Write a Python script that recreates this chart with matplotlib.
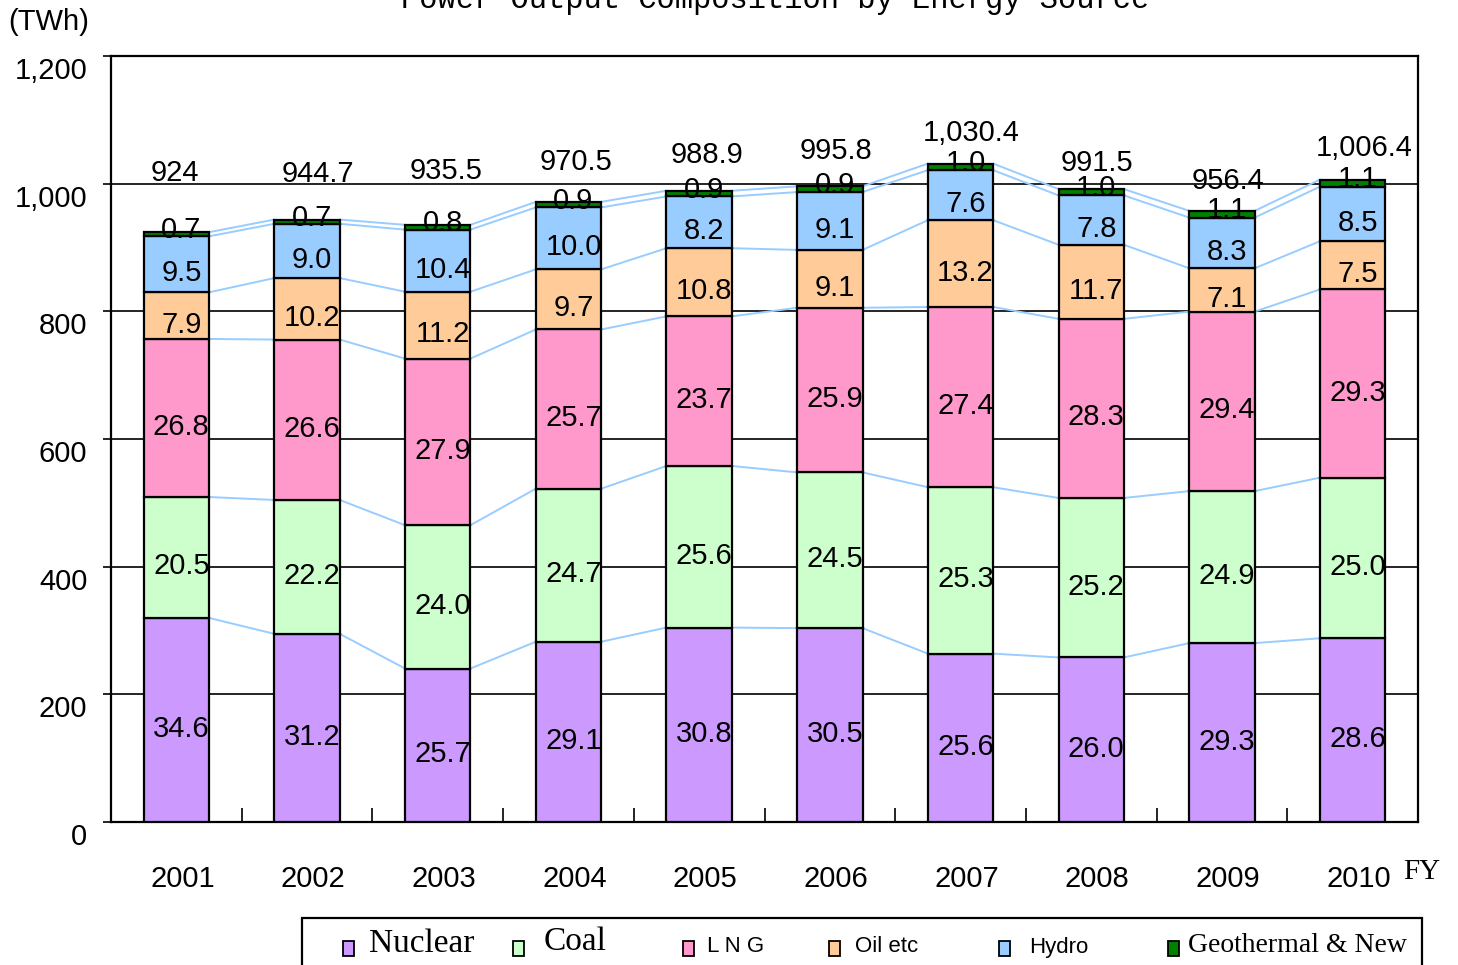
import matplotlib
matplotlib.use("Agg")
import matplotlib.pyplot as plt
from matplotlib.patches import Rectangle
from matplotlib.transforms import ScaledTranslation
import numpy as np

years = ["2001", "2002", "2003", "2004", "2005", "2006", "2007", "2008", "2009", "2010"]
totals = [924, 944.7, 935.5, 970.5, 988.9, 995.8, 1030.4, 991.5, 956.4, 1006.4]
total_labels = ["924", "944.7", "935.5", "970.5", "988.9", "995.8", "1,030.4", "991.5", "956.4", "1,006.4"]
sources = ["Nuclear", "Coal", "LNG", "Oil etc", "Hydro", "Geothermal & New"]
nuclear = [34.6, 31.2, 25.7, 29.1, 30.8, 30.5, 25.6, 26.0, 29.3, 28.6]
coal = [20.5, 22.2, 24.0, 24.7, 25.6, 24.5, 25.3, 25.2, 24.9, 25.0]
lng = [26.8, 26.6, 27.9, 25.7, 23.7, 25.9, 27.4, 28.3, 29.4, 29.3]
oil = [7.9, 10.2, 11.2, 9.7, 10.8, 9.1, 13.2, 11.7, 7.1, 7.5]
hydro = [9.5, 9.0, 10.4, 10.0, 8.2, 9.1, 7.6, 7.8, 8.3, 8.5]
geo = [0.7, 0.7, 0.8, 0.9, 0.9, 0.9, 1.0, 1.0, 1.1, 1.1]
yticks = [0, 200, 400, 600, 800, 1000, 1200]
ytick_labels = ["0", "200", "400", "600", "800", "1,000", "1,200"]

colors = ["#CC99FF", "#CCFFCC", "#FF99CC", "#FFCC99", "#99CCFF", "#008000"]
# per-bar offsets (px) of the total label relative to the bar top centre
total_dy_px = [59, 46, 54, 40, 36, 35, 31, 26, 30, 32]
total_dx_px = [-1, 11, 8, 8, 8, 6, 11, 6, 6, 12]

SANS = ["Liberation Sans", "DejaVu Sans"]
SERIF = ["Liberation Serif", "DejaVu Serif"]
FS = 21

W, H = 1458, 965
fig = plt.figure(figsize=(W / 100, H / 100), dpi=100)
ax = fig.add_axes([111 / W, 1 - 822 / H, 1307 / W, 766 / H])

x = np.arange(len(years))
width = 0.5
series = [nuclear, coal, lng, oil, hydro, geo]
tot = np.array(totals)
bottom = np.zeros(len(years))
tops = []
mids = []
for vals, col in zip(series, colors):
    h = tot * np.array(vals) / 100.0
    ax.bar(x, h, width, bottom=bottom, color=col, edgecolor="black", linewidth=1.6, zorder=3)
    mids.append(bottom + h / 2)
    bottom = bottom + h
    tops.append(bottom.copy())

# connector lines
for lev in tops:
    for i in range(len(years) - 1):
        ax.plot([x[i] + width / 2, x[i + 1] - width / 2], [lev[i], lev[i + 1]],
                color="#99CCFF", lw=1.4, zorder=2)

# segment labels
px = fig.dpi_scale_trans
for k, (vals, mid) in enumerate(zip(series, mids)):
    dy = -9 if k < 5 else 4
    for i in range(len(years)):
        t = ax.transData + ScaledTranslation(5 / 100, dy / 100, px)
        ax.text(x[i], mid[i], f"{vals[i]:.1f}", transform=t, ha="center", va="center",
                fontsize=FS, family=SANS, zorder=5)

# totals
for i in range(len(years)):
    t = ax.transData + ScaledTranslation(total_dx_px[i] / 100, total_dy_px[i] / 100, px)
    ax.text(x[i], tops[-1][i], total_labels[i], transform=t, ha="center", va="center",
            fontsize=FS, family=SANS, zorder=5)

ax.set_xlim(-0.5, len(years) - 0.5)
ax.set_ylim(0, 1200)
ax.set_yticks(yticks)
ax.set_yticklabels(ytick_labels, family=SANS, fontsize=FS)
for y in yticks[1:-1]:
    ax.axhline(y, color="black", lw=1.2, zorder=1)
ax.tick_params(axis="y", direction="out", length=6, width=1.2, pad=11)
for lab in ax.get_yticklabels():
    lab.set_transform(lab.get_transform() + ScaledTranslation(0, -12 / 100, px))

ax.set_xticks(x)
ax.set_xticklabels(years, family=SANS, fontsize=FS)
ax.tick_params(axis="x", which="major", length=0, pad=31)
for lab in ax.get_xticklabels():
    lab.set_transform(lab.get_transform() + ScaledTranslation(6 / 100, 0, px))
ax.set_xticks(x[:-1] + 0.5, minor=True)
ax.tick_params(axis="x", which="minor", direction="in", length=10, width=1.2)

for s in ax.spines.values():
    s.set_linewidth(1.6)
    s.set_color("black")

# title (cut off at top)
fig.text(775 / W, 1 - 8 / H, "Power Output Composition by Energy Source",
         family=["Liberation Mono", "DejaVu Sans Mono"], fontsize=22,
         ha="center", va="baseline")
fig.text(8 / W, 1 - 22 / H, "(TWh)", family=SANS, fontsize=21, ha="left", va="center")
fig.text(1403 / W, 1 - 872 / H, "FY", family=SERIF, fontsize=21, ha="left", va="center")

# legend box
fig.patches.append(Rectangle((302 / W, -0.05), (1422 - 302) / W, 0.05 + (965 - 918) / H,
                             transform=fig.transFigure, facecolor="white",
                             edgecolor="black", lw=1.6))
leg_x = [343, 513, 683, 829, 999, 1168]
leg_txt_x = [369, 544, 707, 855, 1029, 1188]
leg_txt_y = [944, 942, 947, 947, 947, 946]
leg_fams = [SERIF, SERIF, SANS, SANS, SANS, SERIF]
leg_sizes = [24, 24, 16, 16, 16, 20]
leg_labels = ["Nuclear", "Coal", "L N G", "Oil etc", "Hydro", "Geothermal & New"]
for lx, tx, ty, fam, fs, lab, col in zip(leg_x, leg_txt_x, leg_txt_y, leg_fams, leg_sizes,
                                         leg_labels, colors):
    fig.patches.append(Rectangle((lx / W, 1 - 956 / H), 11 / W, 15 / H,
                                 transform=fig.transFigure, facecolor=col,
                                 edgecolor="black", lw=1.3))
    fig.text(tx / W, 1 - ty / H, lab, family=fam, fontsize=fs, ha="left", va="center")

fig.savefig("out.png", dpi=100)
